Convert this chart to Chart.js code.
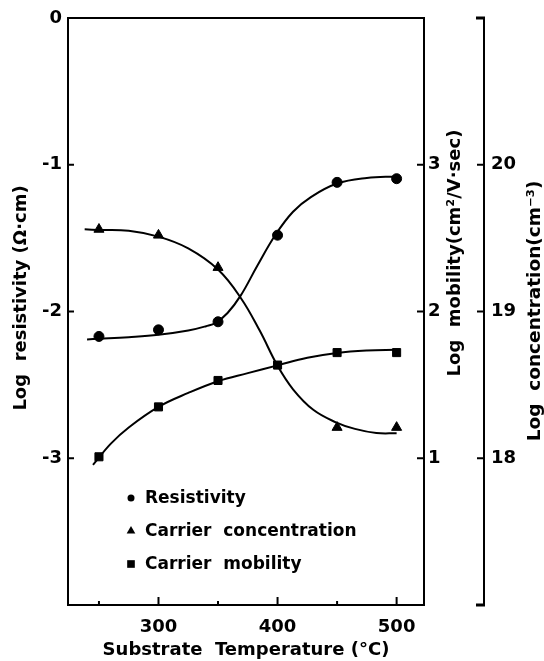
<!DOCTYPE html>
<html><head><meta charset="utf-8">
<script src="https://cdn.jsdelivr.net/npm/chart.js@4/dist/chart.umd.min.js"></script>
<style>html,body{margin:0;padding:0;background:#fff}</style>
</head><body>
<canvas id="c" width="544" height="661"></canvas>
<script>
// ---- data ----
const temperatures = [250, 300, 350, 400, 450, 500];
const resistivity = [-2.17, -2.125, -2.07, -1.48, -1.12, -1.095];
const mobility = [1.01, 1.35, 1.53, 1.635, 1.72, 1.72];
const concTemperatures = [250, 300, 350, 450, 500];
const concentration = [19.56, 19.52, 19.30, 18.21, 18.21];

// smooth fitted curves as drawn in the figure
const resFitT = [240, 250, 275, 300, 325, 340, 348, 358, 369, 383, 398, 413, 428, 450, 475, 500];
const resFitV = [-2.19, -2.186, -2.175, -2.159, -2.13, -2.10, -2.077, -2.01, -1.892, -1.688, -1.48, -1.32, -1.22, -1.128, -1.09, -1.08];
const mobFitT = [245, 260, 275, 300, 325, 350, 375, 400, 425, 450, 475, 500];
const mobFitV = [0.955, 1.10, 1.21, 1.35, 1.445, 1.525, 1.58, 1.633, 1.685, 1.718, 1.734, 1.739];
const conFitT = [238, 250, 275, 300, 325, 350, 369, 385, 400, 413, 430, 449, 465, 483, 500];
const conFitV = [19.56, 19.556, 19.55, 19.51, 19.43, 19.286, 19.094, 18.87, 18.63, 18.47, 18.33, 18.245, 18.20, 18.172, 18.17];

const xTickValues = [250, 300, 350, 400, 450, 500];
const xLabelValues = [300, 400, 500];
const resTicks = [0, -1, -2, -3];
const mobTicks = [1, 2, 3];
const conTicks = [18, 19, 20];
const conBrackets = [17, 21];
const seriesLabels = ['Resistivity', 'Carrier  concentration', 'Carrier  mobility'];
const seriesStyles = ['circle', 'triangle', 'rect'];
const xTitle = 'Substrate  Temperature (°C)';
const resTitle = 'Log  resistivity (Ω·cm)';
const mobTitle = 'Log  mobility(cm²/V·sec)';
const conTitle = 'Log  concentration(cm⁻³)';

const pts = (xs, ys) => xs.map((x, i) => ({x, y: ys[i]}));
const FONT = '"DejaVu Sans", "Liberation Sans", sans-serif';

Chart.defaults.font.family = FONT;
Chart.defaults.font.size = 18;
Chart.defaults.font.weight = 'bold';
Chart.defaults.color = '#000';

const fitLine = {pointRadius: 0, borderColor: '#000', borderWidth: 2, tension: 0.4, fill: false, showLine: true};
const marks = {showLine: false, borderColor: '#000', backgroundColor: '#000', pointBorderWidth: 1};

const overlay = {
  id: 'overlay',
  afterDraw(chart) {
    const ctx = chart.ctx, ca = chart.chartArea;
    const sx = chart.scales.x, sy = chart.scales.y, s2 = chart.scales.y2, s3 = chart.scales.y3;
    ctx.save();
    ctx.strokeStyle = '#000';
    ctx.fillStyle = '#000';
    ctx.lineWidth = 2;
    const seg = (x1, y1, x2, y2) => { ctx.beginPath(); ctx.moveTo(x1, y1); ctx.lineTo(x2, y2); ctx.stroke(); };
    // top border of the frame
    seg(ca.left - 1, ca.top, ca.right + 1, ca.top);
    // inward ticks
    xTickValues.forEach(v => { const p = sx.getPixelForValue(v); seg(p, ca.bottom, p, ca.bottom - (xLabelValues.includes(v) ? 8 : 4)); });
    resTicks.forEach(v => { const p = sy.getPixelForValue(v); seg(ca.left, p, ca.left + 6, p); });
    mobTicks.forEach(v => { const p = s2.getPixelForValue(v); seg(ca.right, p, ca.right - 7, p); });
    conTicks.forEach(v => { const p = s3.getPixelForValue(v); seg(s3.left, p, s3.left - 7, p); });
    ctx.lineWidth = 3;
    conBrackets.forEach(v => { const p = s3.getPixelForValue(v); seg(s3.left + 1, p, s3.left - 8, p); });
    // axis titles
    ctx.font = 'bold 18px ' + FONT;
    ctx.textAlign = 'center';
    ctx.textBaseline = 'middle';
    ctx.fillText(xTitle, (ca.left + ca.right) / 2, 650);
    const vtext = (t, x, y) => { ctx.save(); ctx.translate(x, y); ctx.rotate(-Math.PI / 2); ctx.fillText(t, 0, 0); ctx.restore(); };
    vtext(resTitle, 21, 298);
    vtext(mobTitle, 455, 253);
    ctx.font = 'bold 18.5px ' + FONT;
    vtext(conTitle, 535, 311);
    // legend inside the plot
    const legendY = [498, 531, 564];
    const legendR = [3.5, 5, 5.4];
    ctx.font = 'bold 17px ' + FONT;
    ctx.textAlign = 'left';
    seriesLabels.forEach((lab, i) => {
      Chart.helpers.drawPoint(ctx, {pointStyle: seriesStyles[i], radius: legendR[i], rotation: 0, borderWidth: 0}, 131, legendY[i]);
      ctx.fillText(lab, 145, legendY[i] + 1);
    });
    ctx.restore();
  }
};

new Chart(document.getElementById('c'), {
  type: 'line',
  data: {
    datasets: [
      Object.assign({label: 'res fit', data: pts(resFitT, resFitV), yAxisID: 'y'}, fitLine),
      Object.assign({label: seriesLabels[0], data: pts(temperatures, resistivity), yAxisID: 'y', pointStyle: 'circle', pointRadius: 5}, marks),
      Object.assign({label: 'con fit', data: pts(conFitT, conFitV), yAxisID: 'y3'}, fitLine),
      Object.assign({label: seriesLabels[1], data: pts(concTemperatures, concentration), yAxisID: 'y3', pointStyle: 'triangle', pointRadius: 5.8}, marks),
      Object.assign({label: 'mob fit', data: pts(mobFitT, mobFitV), yAxisID: 'y2'}, fitLine),
      Object.assign({label: seriesLabels[2], data: pts(temperatures, mobility), yAxisID: 'y2', pointStyle: 'rect', pointRadius: 5.7}, marks)
    ]
  },
  options: {
    responsive: false,
    animation: false,
    devicePixelRatio: 1,
    layout: {padding: {top: 18, left: 0, right: 0, bottom: 0}},
    plugins: {legend: {display: false}, tooltip: {enabled: false}},
    scales: {
      y: {
        type: 'linear', position: 'left', min: -4, max: 0,
        afterBuildTicks: s => { s.ticks = resTicks.map(v => ({value: v})); },
        afterFit: s => { s.width = 68; },
        grid: {display: false, drawTicks: false},
        border: {display: true, color: '#000', width: 2},
        ticks: {padding: 6, autoSkip: false, callback: v => String(v)}
      },
      y2: {
        type: 'linear', position: 'right', min: 0, max: 4,
        afterBuildTicks: s => { s.ticks = mobTicks.map(v => ({value: v})); },
        afterFit: s => { s.width = 60; },
        grid: {display: false, drawTicks: false},
        border: {display: true, color: '#000', width: 2},
        ticks: {padding: 4, autoSkip: false, callback: v => String(v)}
      },
      y3: {
        type: 'linear', position: 'right', min: 17, max: 21,
        afterBuildTicks: s => { s.ticks = conTicks.map(v => ({value: v})); },
        afterFit: s => { s.width = 60; },
        grid: {display: false, drawTicks: false},
        border: {display: true, color: '#000', width: 2},
        ticks: {padding: 7, autoSkip: false, callback: v => String(v)}
      },
      x: {
        type: 'linear', position: 'bottom', min: 224, max: 523,
        afterBuildTicks: s => { s.ticks = xTickValues.map(v => ({value: v})); },
        afterFit: s => { s.height = 56; },
        grid: {display: false, drawTicks: false},
        border: {display: true, color: '#000', width: 2},
        ticks: {padding: 12, autoSkip: false, maxRotation: 0, callback: v => xLabelValues.includes(v) ? String(v) : ''}
      }
    }
  },
  plugins: [overlay]
});
</script>
</body></html>
